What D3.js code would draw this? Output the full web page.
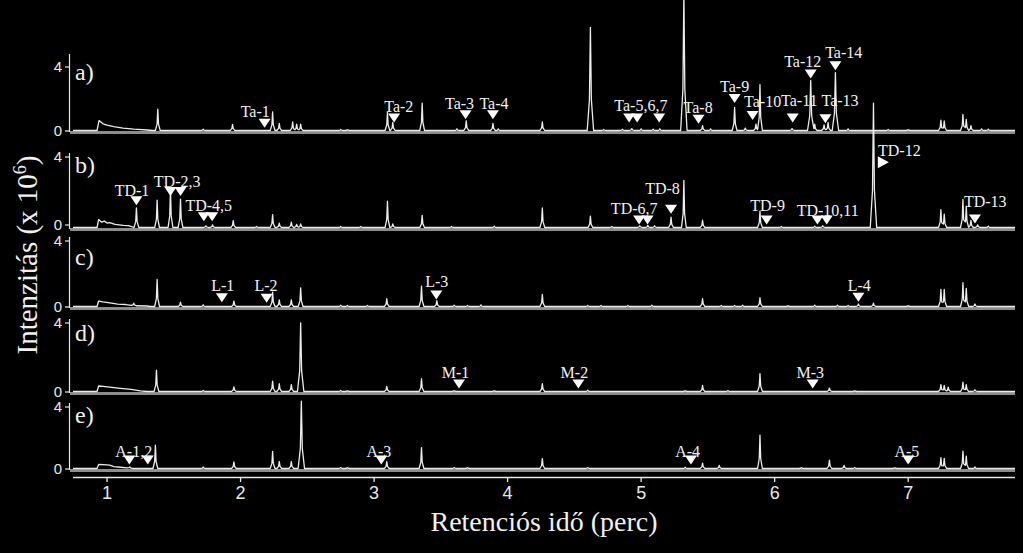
<!DOCTYPE html>
<html><head><meta charset="utf-8">
<script src="https://cdn.jsdelivr.net/npm/d3@7"></script>
<style>
html,body{margin:0;padding:0;background:#000;}
svg{display:block;background:#000;}
</style></head>
<body>
<svg id="chart" width="1023" height="553"></svg>
<script>
// ---------------- DATA ----------------
const xTicks = [1, 2, 3, 4, 5, 6, 7];
const yTicks = [0, 4];
const panelNames = ["a)", "b)", "c)", "d)", "e)"];
const xTitle = "Retenciós idő (perc)";

// initial baseline hump [time, intensity x10^6]
const humpA = [[0.925,0],[0.94,0.62],[0.97,0.42],[1.0,0.33],[1.05,0.24],[1.12,0.15],[1.2,0.08],[1.3,0.03],[1.34,0]];
const humpB = [[0.925,0],[0.937,0.45],[0.96,0.3],[0.98,0.36],[1.0,0.25],[1.02,0.28],[1.06,0.18],[1.12,0.12],[1.16,0.1],[1.19,0.04],[1.2,0]];
const humpC = [[0.925,0],[0.937,0.33],[0.97,0.28],[1.02,0.22],[1.08,0.15],[1.14,0.12],[1.2,0.05],[1.3,0.03],[1.32,0]];
const humpD = [[0.925,0],[0.937,0.32],[0.97,0.3],[1.02,0.25],[1.1,0.18],[1.18,0.12],[1.25,0.04],[1.3,0]];
const humpE = [[0.925,0],[0.937,0.26],[0.97,0.25],[1.02,0.22],[1.05,0.12],[1.1,0.08],[1.15,0.04],[1.2,0]];

// peaks [retention time (min), intensity x10^6]
const peaksA = [[1.38,1.33],[1.72,0.08],[1.94,0.38],[2.24,1.16],[2.29,0.44],[2.39,0.53],[2.42,0.4],[2.45,0.4],[2.75,0.06],[2.8,0.05],[3.10,1.14],[3.14,0.5],[3.36,1.71],[3.62,0.1],[3.69,0.6],[3.89,0.44],[3.93,0.1],[4.26,0.53],[4.62,6.45],[4.72,0.06],[4.86,0.08],[4.93,0.12],[5.0,0.1],[5.09,0.08],[5.14,0.1],[5.32,8.6],[5.46,0.3],[5.52,0.1],[5.70,1.44],[5.78,0.15],[5.86,0.4],[5.89,2.86],[6.13,0.12],[6.27,3.13],[6.30,0.4],[6.37,0.35],[6.40,0.5],[6.455,3.62],[6.55,0.1],[6.85,0.06],[7.0,0.05],[7.245,0.65],[7.27,0.6],[7.41,1.0],[7.435,0.7],[7.47,0.3],[7.55,0.1],[7.6,0.08]];
const peaksB = [[1.22,1.1],[1.375,1.54],[1.475,2.18],[1.55,1.6],[1.74,0.1],[1.79,0.15],[1.945,0.39],[2.12,0.06],[2.24,0.73],[2.29,0.25],[2.38,0.3],[2.42,0.18],[2.45,0.2],[2.75,0.06],[2.9,0.06],[3.10,1.48],[3.14,0.2],[3.36,0.68],[3.58,0.06],[3.9,0.08],[4.26,1.1],[4.62,0.64],[4.78,0.06],[4.99,0.1],[5.05,0.12],[5.1,0.1],[5.224,0.58],[5.32,2.66],[5.46,0.41],[5.89,0.92],[6.05,0.06],[6.3,0.08],[6.36,0.1],[6.74,7.0],[7.245,1.0],[7.27,0.75],[7.41,1.58],[7.435,1.2],[7.47,0.4],[7.52,0.15],[7.6,0.08]];
const peaksC = [[1.20,0.15],[1.375,1.64],[1.55,0.27],[1.72,0.1],[1.95,0.32],[2.24,0.87],[2.29,0.4],[2.38,0.4],[2.45,1.13],[2.75,0.08],[2.8,0.06],[2.95,0.06],[3.095,0.47],[3.355,1.23],[3.47,0.36],[3.6,0.08],[3.7,0.06],[3.8,0.1],[4.26,0.73],[4.6,0.06],[4.7,0.06],[4.9,0.06],[5.08,0.08],[5.46,0.47],[5.6,0.06],[5.7,0.06],[5.76,0.08],[5.89,0.53],[6.1,0.05],[6.3,0.08],[6.47,0.08],[6.55,0.06],[6.627,0.15],[6.74,0.2],[7.0,0.05],[7.245,1.03],[7.27,1.03],[7.41,1.44],[7.435,1.1],[7.5,0.15]];
const peaksD = [[1.37,1.24],[1.72,0.06],[1.95,0.27],[2.24,0.6],[2.29,0.45],[2.38,0.4],[2.45,3.98],[2.75,0.06],[2.8,0.05],[3.095,0.3],[3.355,0.74],[3.6,0.05],[3.9,0.05],[4.26,0.46],[4.6,0.08],[5.33,0.05],[5.46,0.35],[5.65,0.06],[5.89,1.04],[6.41,0.2],[6.6,0.05],[7.245,0.4],[7.27,0.35],[7.3,0.25],[7.41,0.54],[7.435,0.4],[7.5,0.1]];
const peaksE = [[1.17,0.08],[1.362,1.5],[1.72,0.1],[1.95,0.43],[2.24,1.1],[2.29,0.45],[2.38,0.45],[2.455,4.34],[2.75,0.06],[2.8,0.05],[3.095,0.45],[3.355,1.35],[3.6,0.06],[3.7,0.05],[4.26,0.64],[4.6,0.06],[5.33,0.08],[5.46,0.35],[5.585,0.2],[5.89,2.15],[6.2,0.05],[6.41,0.54],[6.52,0.2],[6.6,0.06],[6.9,0.05],[7.245,0.7],[7.27,0.65],[7.41,1.12],[7.435,0.8],[7.5,0.1]];

// marker triangles [time, level, direction]
const markersA = [[2.18,0.49,"down"],[3.15,0.81,"down"],[3.685,1.02,"down"],[3.89,1.02,"down"],[4.91,0.81,"down"],[4.97,0.81,"down"],[5.135,0.81,"down"],[5.43,0.74,"down"],[5.70,2.03,"down"],[5.835,0.97,"down"],[6.135,0.81,"down"],[6.27,3.56,"down"],[6.38,0.76,"down"],[6.455,4.08,"down"]];
const markersB = [[1.22,1.54,"down"],[1.475,2.05,"down"],[1.55,2.05,"down"],[1.725,0.64,"down"],[1.787,0.64,"down"],[4.985,0.45,"down"],[5.048,0.45,"down"],[5.224,1.05,"down"],[5.94,0.45,"down"],[6.32,0.45,"down"],[6.39,0.45,"down"],[6.81,3.70,"right"],[7.50,0.51,"down"]];
const markersC = [[1.86,0.56,"down"],[2.195,0.53,"down"],[3.466,0.73,"down"],[6.627,0.59,"down"]];
const markersD = [[3.636,0.46,"down"],[4.53,0.46,"down"],[6.285,0.46,"down"]];
const markersE = [[1.167,0.58,"down"],[1.305,0.58,"down"],[3.054,0.58,"down"],[5.373,0.58,"down"],[7.0,0.58,"down"]];

// compound labels [text, time (centre), level (centre)]
const labelsA = [["Ta-1",2.11,1.19],["Ta-2",3.185,1.54],["Ta-3",3.64,1.71],["Ta-4",3.898,1.71],["Ta-5,6,7",4.998,1.59],["Ta-8",5.427,1.5],["Ta-9",5.70,2.77],["Ta-10",5.91,1.86],["Ta-11",6.185,1.92],["Ta-12",6.21,4.36],["Ta-13",6.49,1.92],["Ta-14",6.517,4.89]];
const labelsB = [["TD-1",1.187,2.14],["TD-2,3",1.525,2.61],["TD-4,5",1.762,1.24],["TD-6,7",4.948,1.11],["TD-8",5.16,2.2],["TD-9",5.947,1.24],["TD-10,11",6.397,1.01],["TD-12",6.934,4.39],["TD-13",7.577,1.52]];
const labelsC = [["L-1",1.867,1.33],["L-2",2.19,1.33],["L-3",3.469,1.53],["L-4",6.634,1.33]];
const labelsD = [["M-1",3.61,1.12],["M-2",4.50,1.12],["M-3",6.267,1.12]];
const labelsE = [["A-1,2",1.20,1.16],["A-3",3.036,1.16],["A-4",5.348,1.16],["A-5",6.99,1.16]];

// ---------------- LAYOUT ----------------
const svg = d3.select("#chart");
const serif = "'Liberation Serif','Times New Roman',serif";
const sans = "'Liberation Sans',Arial,sans-serif";
const xDomain = [0.745, 7.80];
const x = d3.scaleLinear().domain(xDomain).range([73, 1015]);

const layout = [
  {y0:131, y4:67,  axisTop:54,  nameY:80,  tick0:131},
  {y0:228, y4:157, axisTop:153, nameY:173, tick0:225},
  {y0:307, y4:241, axisTop:237, nameY:265, tick0:307},
  {y0:392, y4:323, axisTop:319, nameY:341, tick0:392},
  {y0:469, y4:407, axisTop:403, nameY:423, tick0:469}
];
const panels = [
  {hump:humpA, peaks:peaksA, markers:markersA, labels:labelsA},
  {hump:humpB, peaks:peaksB, markers:markersB, labels:labelsB},
  {hump:humpC, peaks:peaksC, markers:markersC, labels:labelsC},
  {hump:humpD, peaks:peaksD, markers:markersD, labels:labelsD},
  {hump:humpE, peaks:peaksE, markers:markersE, labels:labelsE}
];

// peak glyph: narrow spike built around each (time, height) pair
function peakShape(p){
  const t = p[0], h = p[1];
  const hw = h > 3 ? 0.024 : 0.018;
  return [[t-hw,0],[t-hw*0.3,h*0.3],[t,h],[t+hw*0.3,h*0.3],[t+hw,0]];
}
function evalComp(c, t){
  if (t <= c[0][0] || t >= c[c.length-1][0]) return 0;
  for (let i=1;i<c.length;i++){
    if (t <= c[i][0]){
      const a=c[i-1], b=c[i];
      return a[1] + (b[1]-a[1])*(t-a[0])/(b[0]-a[0]);
    }
  }
  return 0;
}
function buildTrace(hump, peaks){
  const comps = [hump].concat(peaks.map(peakShape));
  const ts = new Set([xDomain[0], xDomain[1]]);
  comps.forEach(c => c.forEach(v => ts.add(v[0])));
  const sorted = Array.from(ts).filter(t => t>=xDomain[0] && t<=xDomain[1]).sort((a,b)=>a-b);
  return sorted.map(t => [t, d3.sum(comps, c => evalComp(c, t))]);
}

const bandLayer = svg.append("g");
const axisLayer = svg.append("g");
const traceLayer = svg.append("g");
const annLayer = svg.append("g");

panels.forEach((p, i) => {
  const L = layout[i];
  const y = d3.scaleLinear().domain([0,4]).range([L.y0, L.y4]);
  const tickY = d => d === 0 ? L.tick0 : y(d);

  // grey baseline band
  bandLayer.append("line").attr("x1",70).attr("x2",1015).attr("y1",L.y0+1.5).attr("y2",L.y0+1.5)
    .attr("stroke","#8c8c8c").attr("stroke-width",3);

  // y axis
  const ax = axisLayer.append("g");
  ax.append("line").attr("x1",69.5).attr("x2",69.5).attr("y1",L.axisTop).attr("y2",L.y0+1)
    .attr("stroke","#e8e8e8").attr("stroke-width",1.2);
  ax.selectAll("line.tk").data(yTicks).join("line").attr("class","tk")
    .attr("x1",65).attr("x2",69.5).attr("y1",tickY).attr("y2",tickY)
    .attr("stroke","#e8e8e8").attr("stroke-width",1.2);
  ax.selectAll("text").data(yTicks).join("text")
    .attr("x",62).attr("y",d=>tickY(d)+5).attr("text-anchor","end")
    .attr("font-family",sans).attr("font-size",15).attr("fill","#e8e8e8")
    .text(d=>d);

  // panel name
  axisLayer.append("text").attr("x",75).attr("y",L.nameY)
    .attr("font-family",serif).attr("font-size",24).attr("fill","#f0f0f0").text(panelNames[i]);

  // trace
  const data = buildTrace(p.hump, p.peaks);
  const line = d3.line().x(d=>x(d[0])).y(d=>y(d[1])-0.5);
  traceLayer.append("path").datum(data).attr("d",line)
    .attr("fill","none").attr("stroke","#ececec").attr("stroke-width",1.3)
    .attr("stroke-linejoin","round");

  // markers
  annLayer.selectAll(null).data(p.markers).join("path")
    .attr("d", d => {
      const cx = x(d[0]), cy = y(d[1]);
      if (d[2] === "right") return `M${cx-5},${cy-6}L${cx+6},${cy}L${cx-5},${cy+6}Z`;
      return `M${cx-6},${cy-4.5}L${cx+6},${cy-4.5}L${cx},${cy+4.5}Z`;
    })
    .attr("fill","#fff");

  // labels
  annLayer.selectAll(null).data(p.labels).join("text")
    .attr("x", d=>x(d[1])).attr("y", d=>y(d[2])+5.5)
    .attr("text-anchor","middle").attr("font-family",serif).attr("font-size",16)
    .attr("fill","#f2f2f2").text(d=>d[0]);
});

// x axis
const xAxisG = svg.append("g");
xAxisG.append("line").attr("x1",73).attr("x2",1015).attr("y1",477.5).attr("y2",477.5)
  .attr("stroke","#e8e8e8").attr("stroke-width",1.3);
xAxisG.selectAll("line.tk").data(xTicks).join("line").attr("class","tk")
  .attr("x1",d=>x(d)).attr("x2",d=>x(d)).attr("y1",477.5).attr("y2",482)
  .attr("stroke","#e8e8e8").attr("stroke-width",1.3);
xAxisG.selectAll("text").data(xTicks).join("text")
  .attr("x",d=>x(d)).attr("y",499).attr("text-anchor","middle")
  .attr("font-family",sans).attr("font-size",18).attr("fill","#e8e8e8").text(d=>d);

svg.append("text").attr("x",544).attr("y",531).attr("text-anchor","middle")
  .attr("font-family",serif).attr("font-size",28).attr("fill","#f0f0f0").text(xTitle);

// y title
const yt = svg.append("text").attr("transform","translate(37,255) rotate(-90)")
  .attr("text-anchor","middle").attr("font-family",serif).attr("font-size",29).attr("fill","#f0f0f0");
yt.append("tspan").text("Intenzitás (x 10");
yt.append("tspan").attr("font-size",18).attr("dy",-11).text("6");
yt.append("tspan").attr("dy",11).text(")");

traceLayer.raise();
annLayer.raise();
</script>
</body></html>
